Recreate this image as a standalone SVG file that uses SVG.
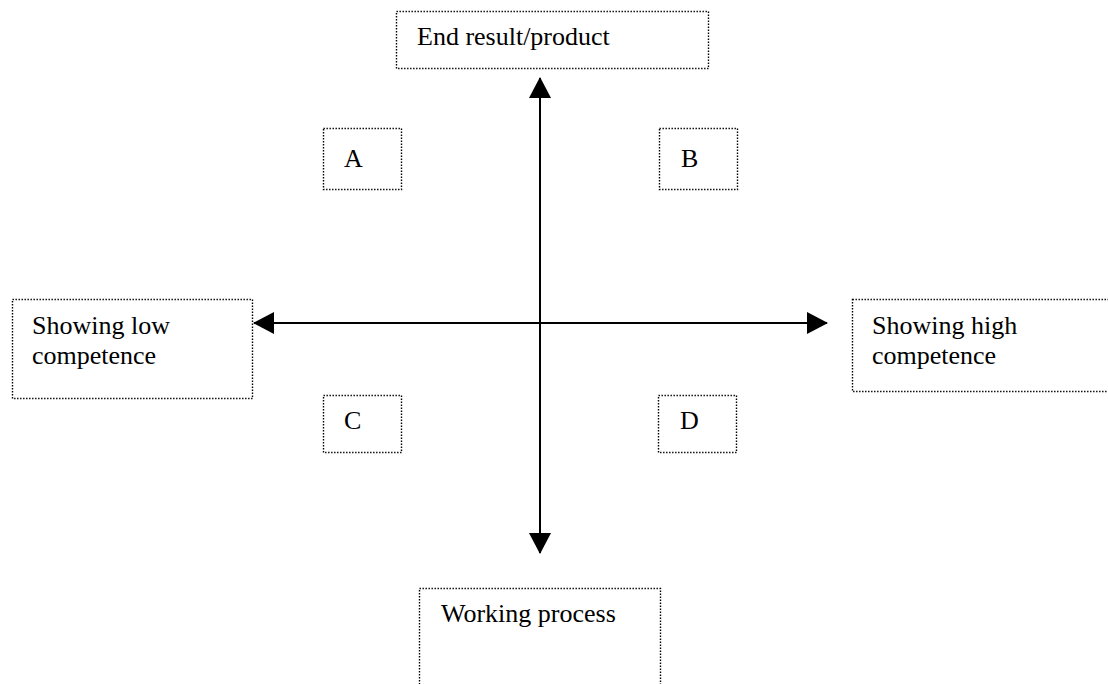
<svg xmlns="http://www.w3.org/2000/svg" width="1108" height="684" viewBox="0 0 1108 684">
<style>
.box{fill:#fff;stroke:#000;stroke-width:1.4;stroke-dasharray:1.4 1.6}
.t{font-family:"Liberation Serif","Times New Roman",serif;font-size:26px;fill:#000}
.ax{stroke:#000;stroke-width:2;fill:none}
</style>
<defs>
<marker id="ah" markerUnits="userSpaceOnUse" markerWidth="22" markerHeight="22" refX="20" refY="11" orient="auto-start-reverse" viewBox="0 0 22 22">
<path d="M0,0 L21,11 L0,22 Z" fill="#000"/>
</marker>
</defs>
<rect width="1108" height="684" fill="#fff"/>
<g id="connectors">
<line class="ax" x1="540" y1="78" x2="540" y2="553" marker-start="url(#ah)" marker-end="url(#ah)"/>
<line class="ax" x1="254" y1="323" x2="827" y2="323" marker-start="url(#ah)" marker-end="url(#ah)"/>
</g>
<g id="top">
<rect class="box" x="396.5" y="11.5" width="312" height="57"/>
<text class="t" x="417" y="45">End result/product</text>
</g>
<g id="left">
<rect class="box" x="12.5" y="299.5" width="240" height="99"/>
<text class="t" x="32" y="334">Showing low</text>
<text class="t" x="32" y="364">competence</text>
</g>
<g id="right">
<rect class="box" x="852.5" y="299.5" width="270" height="92"/>
<text class="t" x="872" y="334">Showing high</text>
<text class="t" x="872" y="364">competence</text>
</g>
<g id="bottom">
<rect class="box" x="419.5" y="588.5" width="241" height="110"/>
<text class="t" x="441" y="622">Working process</text>
</g>
<g id="A">
<rect class="box" x="323.5" y="128.5" width="78" height="61"/>
<text class="t" x="344" y="167">A</text>
</g>
<g id="B">
<rect class="box" x="659.5" y="128.5" width="78" height="61"/>
<text class="t" x="681" y="167">B</text>
</g>
<g id="C">
<rect class="box" x="323.5" y="395.5" width="78" height="57"/>
<text class="t" x="344" y="429">C</text>
</g>
<g id="D">
<rect class="box" x="658.5" y="395.5" width="78" height="57"/>
<text class="t" x="680" y="429">D</text>
</g>
</svg>
